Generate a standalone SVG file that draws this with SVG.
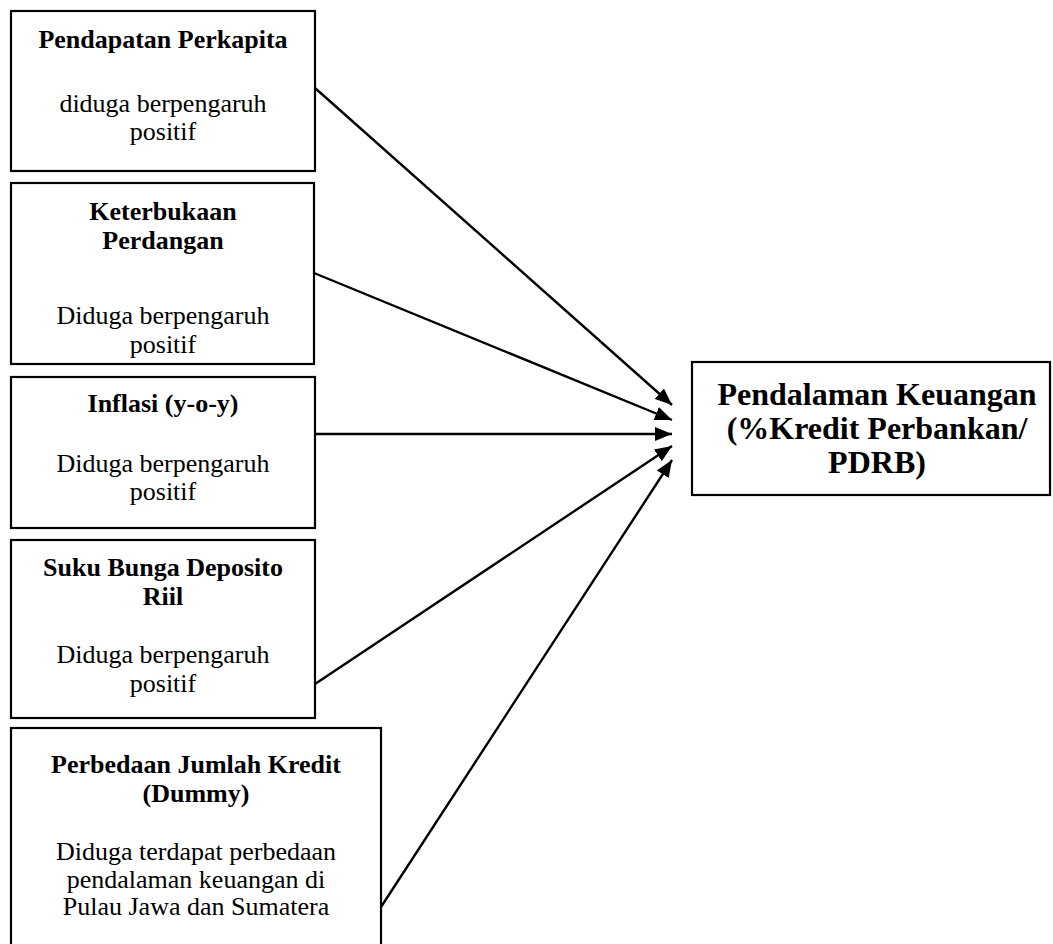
<svg xmlns="http://www.w3.org/2000/svg" width="1053" height="944" viewBox="0 0 1053 944">
<style>
.box{fill:#fff;stroke:#000;stroke-width:2.2}
.t{font-family:"Liberation Serif","Times New Roman",serif;font-size:26px;text-anchor:middle;fill:#000}
.b{font-family:"Liberation Serif","Times New Roman",serif;font-size:26px;font-weight:bold;text-anchor:middle;fill:#000}
.big{font-family:"Liberation Serif","Times New Roman",serif;font-size:32px;font-weight:bold;text-anchor:middle;fill:#000}
.c{stroke:#000;stroke-width:2.4;fill:none;marker-end:url(#ah)}
</style>
<defs>
<marker id="ah" markerUnits="userSpaceOnUse" markerWidth="18" markerHeight="14" refX="17" refY="7" orient="auto">
<path d="M0,0 L17,7 L0,14 z" fill="#000"/>
</marker>
</defs>
<rect width="1053" height="944" fill="#fff"/>
<g id="n1">
<rect class="box" x="11" y="11" width="304" height="160"/>
<text class="b" x="163" y="48">Pendapatan Perkapita</text>
<text class="t" x="163" y="112">diduga berpengaruh</text>
<text class="t" x="163" y="140">positif</text>
</g>
<g id="n2">
<rect class="box" x="11" y="183" width="303" height="181"/>
<text class="b" x="163" y="220">Keterbukaan</text>
<text class="b" x="163" y="249">Perdangan</text>
<text class="t" x="163" y="324">Diduga berpengaruh</text>
<text class="t" x="163" y="353">positif</text>
</g>
<g id="n3">
<rect class="box" x="11" y="377" width="304" height="151"/>
<text class="b" x="163" y="412">Inflasi (y-o-y)</text>
<text class="t" x="163" y="472">Diduga berpengaruh</text>
<text class="t" x="163" y="500">positif</text>
</g>
<g id="n4">
<rect class="box" x="11" y="540" width="304" height="178"/>
<text class="b" x="163" y="576">Suku Bunga Deposito</text>
<text class="b" x="163" y="605">Riil</text>
<text class="t" x="163" y="663">Diduga berpengaruh</text>
<text class="t" x="163" y="692">positif</text>
</g>
<g id="n5">
<rect class="box" x="11" y="728" width="370" height="225"/>
<text class="b" x="196" y="773">Perbedaan Jumlah Kredit</text>
<text class="b" x="196" y="802">(Dummy)</text>
<text class="t" x="196" y="860">Diduga terdapat perbedaan</text>
<text class="t" x="196" y="888">pendalaman keuangan di</text>
<text class="t" x="196" y="915">Pulau Jawa dan Sumatera</text>
</g>
<g id="target">
<rect class="box" x="692" y="362" width="358" height="133"/>
<text class="big" x="877" y="405">Pendalaman Keuangan</text>
<text class="big" x="877" y="439">(%Kredit Perbankan/</text>
<text class="big" x="877" y="473">PDRB)</text>
</g>
<g id="connectors">
<line class="c" x1="315" y1="88" x2="672" y2="405"/>
<line class="c" x1="314" y1="273" x2="672" y2="420"/>
<line class="c" x1="315" y1="434" x2="672" y2="434"/>
<line class="c" x1="315" y1="684" x2="672" y2="446"/>
<line class="c" x1="381" y1="907" x2="672" y2="460"/>
</g>
</svg>
